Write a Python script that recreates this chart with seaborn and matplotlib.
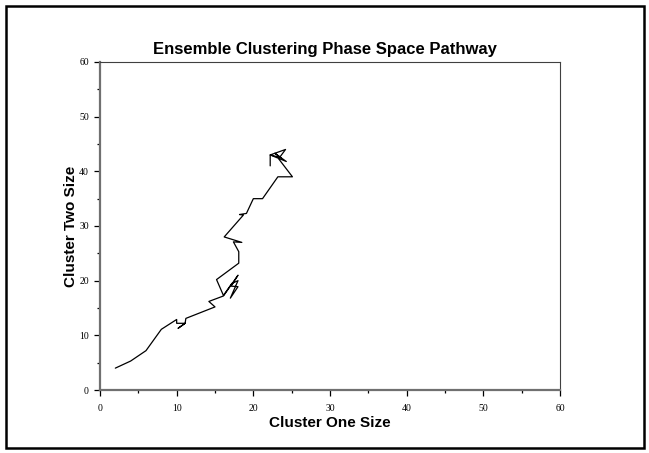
import matplotlib
matplotlib.use("Agg")
import matplotlib.pyplot as plt
import seaborn as sns
import pandas as pd
from matplotlib.patches import Rectangle
from matplotlib.ticker import MultipleLocator

# Pathway through phase space (cluster one size, cluster two size)
cluster_one = [2, 4, 6, 8, 10, 10, 11.1, 10.2, 11.1, 11.2, 15, 14.2, 16.1,
               18, 17.1, 18, 17, 18, 17.2, 16.1, 15.2, 18.1, 18.1, 17.4, 18.5,
               16.2, 18.7, 18.2, 19.1, 20, 21.2, 23.2, 25.1, 23.3, 24.2, 22.2,
               24.3, 22.8, 23.6, 22.2, 22.2]
cluster_two = [4, 5.3, 7.2, 11.1, 12.9, 12.2, 12.2, 11.3, 12.2, 13.1, 15.2, 16.2, 17.2,
               21, 19, 18.9, 16.8, 20, 19.5, 17.3, 20.2, 23.2, 25.3, 27.1, 27.0,
               28.0, 32.0, 32.1, 32.3, 35, 35, 39, 39, 42.3, 44, 43,
               41.8, 43.3, 42.5, 43, 41]

title_text = "Ensemble Clustering Phase Space Pathway"
x_label = "Cluster One Size"
y_label = "Cluster Two Size"

sns.set_style("ticks")
plt.rcParams["font.family"] = ["Liberation Sans", "DejaVu Sans"]
plt.rcParams["text.color"] = "black"
plt.rcParams["axes.labelcolor"] = "black"
plt.rcParams["xtick.color"] = "black"
plt.rcParams["ytick.color"] = "black"

fig = plt.figure(figsize=(6.49, 4.53), dpi=100)
ax = fig.add_axes([100 / 649, 1 - 390 / 453, 460 / 649, 328 / 453])

df = pd.DataFrame({"x": cluster_one, "y": cluster_two})
sns.lineplot(data=df, x="x", y="y", sort=False, estimator=None,
             color="black", linewidth=0.9, ax=ax)

ax.set_xlim(0, 60)
ax.set_ylim(0, 60)
ax.xaxis.set_major_locator(MultipleLocator(10))
ax.yaxis.set_major_locator(MultipleLocator(10))
ax.xaxis.set_minor_locator(MultipleLocator(5))
ax.yaxis.set_minor_locator(MultipleLocator(5))
ax.tick_params(which="major", direction="out", length=4, width=0.9,
               color="black", labelcolor="black", labelsize=7)
ax.tick_params(axis="x", which="major", pad=6)
ax.tick_params(axis="y", which="major", pad=4)
ax.tick_params(which="minor", direction="out", length=2, width=0.9, color="black")
for lab in ax.get_xticklabels() + ax.get_yticklabels():
    lab.set_fontfamily("Liberation Serif")

for side in ["left", "bottom"]:
    ax.spines[side].set_color("#707070")
    ax.spines[side].set_linewidth(1.6)
for side in ["top", "right"]:
    ax.spines[side].set_visible(True)
    ax.spines[side].set_color("#404040")
    ax.spines[side].set_linewidth(0.8)

ax.set_title(title_text, fontsize=12, fontweight="bold", pad=6, x=0.488,
             color="black")
ax.set_xlabel(x_label, fontsize=11, fontweight="bold", labelpad=2, color="black")
ax.set_ylabel(y_label, fontsize=11, fontweight="bold", labelpad=1, color="black")

fig.patches.append(Rectangle((6 / 649, 5 / 453), 638 / 649, 442 / 453,
                             transform=fig.transFigure, fill=False,
                             edgecolor="black", linewidth=1.8))

fig.savefig("out.png", dpi=100)
